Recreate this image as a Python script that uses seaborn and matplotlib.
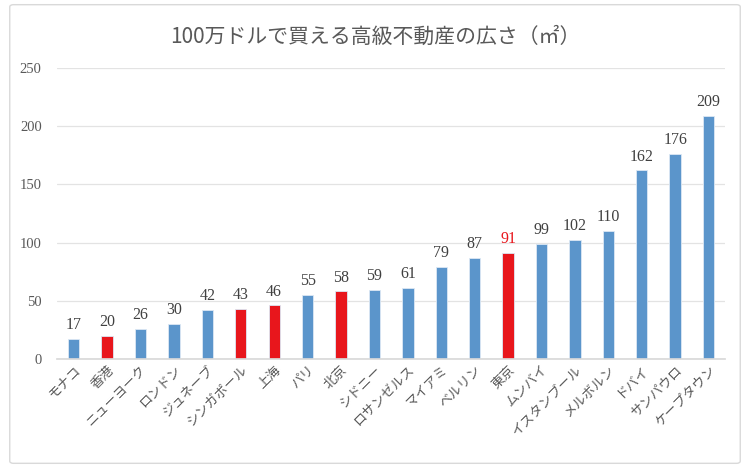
import matplotlib
matplotlib.use("Agg")
import matplotlib.pyplot as plt
import seaborn as sns
import pandas as pd
from matplotlib.patches import FancyBboxPatch

cities = ["モナコ", "香港", "ニューヨーク", "ロンドン", "ジュネーブ", "シンガポール", "上海", "パリ", "北京",
          "シドニー", "ロサンゼルス", "マイアミ", "ベルリン", "東京", "ムンバイ", "イスタンブール", "メルボルン",
          "ドバイ", "サンパウロ", "ケープタウン"]
areas = [17, 20, 26, 30, 42, 43, 46, 55, 58, 59, 61, 79, 87, 91, 99, 102, 110, 162, 176, 209]
highlight = ["香港", "シンガポール", "上海", "北京", "東京"]
yticks = [0, 50, 100, 150, 200, 250]
title = "100万ドルで買える高級不動産の広さ（㎡）"

BLUE = "#5B95CB"
RED = "#E8161C"

sns.set_theme(style="white")
plt.rcParams['font.family'] = ['Liberation Serif', 'Noto Sans CJK JP', 'DejaVu Sans']

df = pd.DataFrame({"city": cities, "area": areas})
palette = {c: (RED if c in highlight else BLUE) for c in cities}

fig = plt.figure(figsize=(7.5, 4.68), dpi=100)
ax = fig.add_axes([0.076, 0.233, 0.891, 0.622])
sns.barplot(data=df, x="city", y="area", hue="city", palette=palette, legend=False,
            width=0.34, ax=ax, edgecolor="#DCE8F4", linewidth=0.6, saturation=1)

ax.set_ylim(0, 250)
ax.set_xlim(-0.5, len(cities) - 0.5)
ax.set_yticks(yticks)
ax.set_yticklabels([str(v) for v in yticks], fontsize=10.5, color="#595959")
ax.yaxis.grid(True, color="#E3E3E3", linewidth=0.9)
ax.set_axisbelow(True)
for s in ["top", "right", "left"]:
    ax.spines[s].set_visible(False)
ax.spines["bottom"].set_color("#D9D9D9")
ax.tick_params(axis="y", length=0, pad=11)
ax.tick_params(axis="x", length=0, pad=3)
ax.set_xlabel("")
ax.set_ylabel("")
ax.set_xticks(range(len(cities)))
ax.set_xticklabels(cities, rotation=45, ha="right", rotation_mode="anchor",
                   fontsize=9.5, color="#595959", family=['Noto Sans CJK JP', 'DejaVu Sans'])

for i, (c, v) in enumerate(zip(cities, areas)):
    ax.text(i, v + 5, str(v), ha="center", va="bottom", fontsize=11.5,
            color=(RED if c == "東京" else "#404040"))

fig.text(0.5, 0.922, title, ha="center", va="center", fontsize=15, color="#595959",
         family=['Noto Sans CJK JP', 'DejaVu Sans'])

border = FancyBboxPatch((0.013, 0.01), 0.974, 0.98, boxstyle="round,pad=0,rounding_size=0.005",
                        transform=fig.transFigure, fill=False, edgecolor="#D9D9D9", linewidth=1)
fig.patches.append(border)

fig.savefig("out.png", dpi=100)
